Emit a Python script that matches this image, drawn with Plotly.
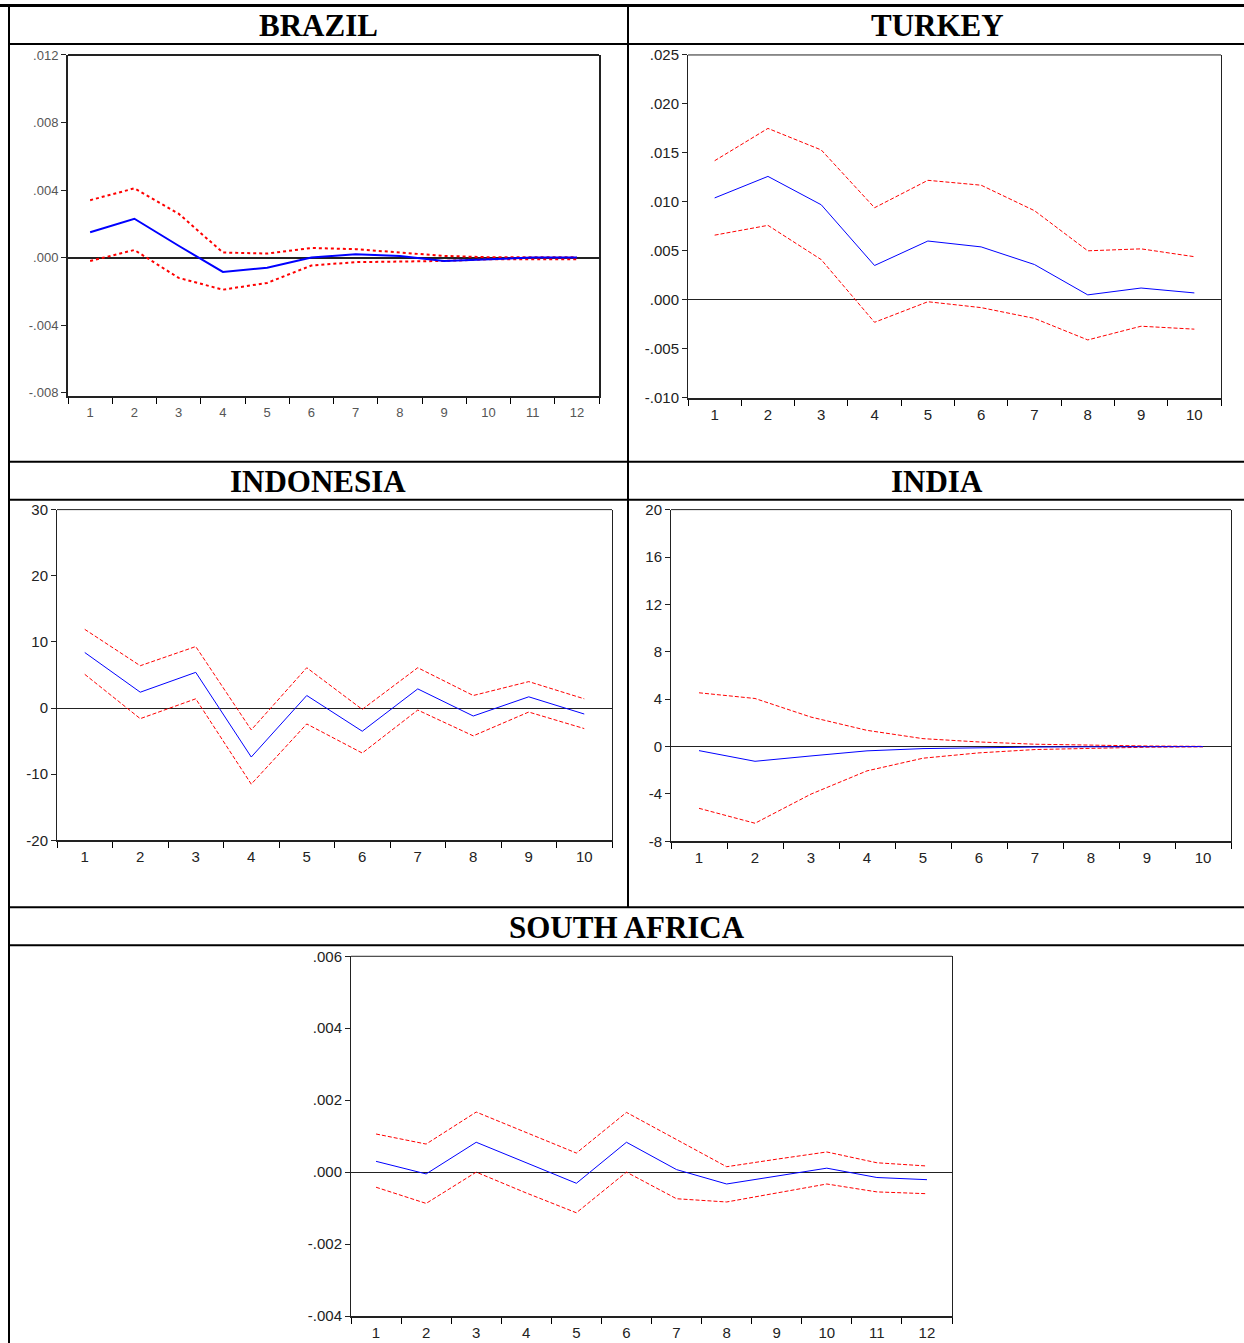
import plotly.graph_objects as go

# page geometry: plotly's paper area is drawn 8px in from the top and bottom
PAGE_W, PAGE_H = 1244, 1343
PAD_Y = 8
FW, FH = PAGE_W, PAGE_H
PAPER_H = PAGE_H - 2 * PAD_Y

# ---------------- data ----------------
brazil_periods = list(range(1, 13))
brazil_resp = [0.0015, 0.0023, 0.0007, -0.00085, -0.0006, 0.0, 0.0002, 0.0001, -0.0002, -0.0001, 0.0, 0.0]
brazil_upper = [0.0034, 0.0041, 0.0026, 0.0003, 0.00024, 0.00057, 0.0005, 0.0003, 0.0001, 0.00002, 0.00002, 0.00002]
brazil_lower = [-0.0002, 0.00045, -0.0012, -0.0019, -0.0015, -0.00047, -0.00027, -0.00025, -0.0002, -0.0001, -0.0001, -0.0001]
brazil_ytickvals = [0.012, 0.008, 0.004, 0.0, -0.004, -0.008]
brazil_yticktext = [".012", ".008", ".004", ".000", "-.004", "-.008"]

turkey_periods = list(range(1, 11))
turkey_resp = [0.0104, 0.0126, 0.0097, 0.0035, 0.0060, 0.0054, 0.0036, 0.0005, 0.0012, 0.0007]
turkey_upper = [0.0142, 0.0175, 0.0153, 0.0094, 0.0122, 0.0117, 0.0091, 0.0050, 0.0052, 0.0044]
turkey_lower = [0.0066, 0.0076, 0.0041, -0.0023, -0.0002, -0.0008, -0.0019, -0.0041, -0.0027, -0.0030]
turkey_ytickvals = [0.025, 0.020, 0.015, 0.010, 0.005, 0.0, -0.005, -0.010]
turkey_yticktext = [".025", ".020", ".015", ".010", ".005", ".000", "-.005", "-.010"]

indonesia_periods = list(range(1, 11))
indonesia_resp = [8.4, 2.4, 5.4, -7.4, 1.9, -3.5, 2.9, -1.2, 1.7, -0.9]
indonesia_upper = [11.9, 6.4, 9.3, -3.3, 6.1, -0.2, 6.1, 1.9, 4.0, 1.4]
indonesia_lower = [5.1, -1.6, 1.4, -11.5, -2.4, -6.8, -0.3, -4.2, -0.6, -3.1]
indonesia_ytickvals = [30, 20, 10, 0, -10, -20]
indonesia_yticktext = ["30", "20", "10", "0", "-10", "-20"]

india_periods = list(range(1, 11))
india_resp = [-0.34, -1.24, -0.79, -0.36, -0.17, -0.08, -0.04, -0.02, -0.01, 0.0]
india_upper = [4.54, 4.06, 2.49, 1.37, 0.67, 0.39, 0.2, 0.1, 0.05, 0.02]
india_lower = [-5.21, -6.47, -4.01, -2.05, -0.98, -0.53, -0.25, -0.12, -0.05, -0.02]
india_ytickvals = [20, 16, 12, 8, 4, 0, -4, -8]
india_yticktext = ["20", "16", "12", "8", "4", "0", "-4", "-8"]

sa_periods = list(range(1, 13))
sa_resp = [0.0003, -0.00005, 0.00083, 0.00025, -0.00031, 0.00083, 0.00007, -0.00033, -0.00011, 0.00011, -0.00015, -0.00021]
sa_upper = [0.00106, 0.00078, 0.00167, 0.0011, 0.00053, 0.00166, 0.00091, 0.00015, 0.00036, 0.00056, 0.00026, 0.00017]
sa_lower = [-0.00042, -0.00087, 0.0, -0.00058, -0.00113, 0.0, -0.00074, -0.00083, -0.00058, -0.00033, -0.00055, -0.0006]
sa_ytickvals = [0.006, 0.004, 0.002, 0.0, -0.002, -0.004]
sa_yticktext = [".006", ".004", ".002", ".000", "-.002", "-.004"]

headers = ["BRAZIL", "TURKEY", "INDONESIA", "INDIA", "SOUTH AFRICA"]

# ---------------- figure ----------------
fig = go.Figure()


def px_x(p):
    return p / FW


def px_y(p):
    return 1 - (p - PAD_Y) / PAPER_H


panels = [
    (brazil_periods, brazil_resp, brazil_upper, brazil_lower, (68, 599, 54, 395), [-0.00818, 0.012],
     brazil_ytickvals, brazil_yticktext, True),
    (turkey_periods, turkey_resp, turkey_upper, turkey_lower, (688, 1221, 54, 397), [-0.010, 0.025],
     turkey_ytickvals, turkey_yticktext, False),
    (indonesia_periods, indonesia_resp, indonesia_upper, indonesia_lower, (57, 612, 509, 840), [-20, 30],
     indonesia_ytickvals, indonesia_yticktext, False),
    (india_periods, india_resp, india_upper, india_lower, (671, 1231, 509, 841), [-8, 20],
     india_ytickvals, india_yticktext, False),
    (sa_periods, sa_resp, sa_upper, sa_lower, (351, 952, 956, 1316), [-0.004, 0.006],
     sa_ytickvals, sa_yticktext, False),
]

layout_axes = {}
shapes = []
for i, (per, resp, up, lo, box, yr, tv, tt, heavy) in enumerate(panels):
    n = i + 1
    xname = "x" if n == 1 else f"x{n}"
    yname = "y" if n == 1 else f"y{n}"
    xkey = "xaxis" if n == 1 else f"xaxis{n}"
    ykey = "yaxis" if n == 1 else f"yaxis{n}"
    x0, x1, yt, yb = box
    N = len(per)
    lw = 2 if heavy else 1
    tickfont = dict(family="Liberation Sans Narrow, Liberation Sans, Arial", size=13, color="#555") if heavy \
        else dict(family="Liberation Sans, Arial", size=15, color="#222")

    red_line = dict(color="#FF0000", width=2, dash="dot") if heavy else dict(color="#FF0000", width=1, dash="4px,2px")
    blue_line = dict(color="#0000FF", width=2) if heavy else dict(color="#0000FF", width=1)

    fig.add_trace(go.Scatter(x=per, y=up, mode="lines", line=red_line, xaxis=xname, yaxis=yname, hoverinfo="skip"))
    fig.add_trace(go.Scatter(x=per, y=lo, mode="lines", line=red_line, xaxis=xname, yaxis=yname, hoverinfo="skip"))
    fig.add_trace(go.Scatter(x=per, y=resp, mode="lines", line=blue_line, xaxis=xname, yaxis=yname, hoverinfo="skip"))

    layout_axes[xkey] = dict(
        domain=[px_x(x0), px_x(x1)], anchor=yname, range=[0.5, N + 0.5],
        tickmode="array", tickvals=per, ticktext=[str(p) for p in per],
        ticks="outside", ticklen=4 if heavy else 2, tickcolor="rgba(0,0,0,0)",
        minor=dict(tickmode="array", tickvals=[k + 0.5 for k in range(N + 1)], ticks="outside",
                   ticklen=6, tickcolor="black", tickwidth=1, showgrid=False),
        showline=True, linecolor="#222", linewidth=2, mirror=False,
        showgrid=False, zeroline=False, tickfont=tickfont, fixedrange=True,
    )
    layout_axes[ykey] = dict(
        domain=[px_y(yb), px_y(yt)], anchor=xname, range=yr,
        tickmode="array", tickvals=tv, ticktext=tt,
        ticks="outside", ticklen=5, tickcolor="#222", tickwidth=1,
        showline=True, linecolor="#222", linewidth=lw, mirror=True,
        showgrid=False, zeroline=True, zerolinecolor="#222", zerolinewidth=2 if heavy else 1,
        tickfont=tickfont, fixedrange=True,
    )
    shapes.append(dict(type="line", xref=f"{xname} domain", yref=f"{yname} domain",
                       x0=0, x1=1, y0=1, y1=1, line=dict(color="#222", width=lw)))


def hline(py, x0=8, x1=PAGE_W, w=2):
    shapes.append(dict(type="line", xref="paper", yref="paper", x0=px_x(x0), x1=px_x(x1),
                       y0=px_y(py), y1=px_y(py), line=dict(color="black", width=w)))


def vline(px, y0, y1, w=2):
    shapes.append(dict(type="line", xref="paper", yref="paper", x0=px_x(px), x1=px_x(px),
                       y0=px_y(y0), y1=px_y(y1), line=dict(color="black", width=w)))


hline(4.5, 0, PAGE_W, 3)
hline(43)
hline(461)
hline(499)
hline(907)
hline(945)
vline(9, 3, PAGE_H)
vline(628, 3, 907)

header_pos = [(318, 25), (937, 25), (318, 481), (937, 481), (627, 927)]
annotations = []
for txt, (hx, hy) in zip(headers, header_pos):
    annotations.append(dict(text=f"<b>{txt}</b>", x=px_x(hx), y=px_y(hy), xref="paper", yref="paper",
                            xanchor="center", yanchor="middle", showarrow=False,
                            font=dict(family="Liberation Serif, Times New Roman, serif", size=31, color="black")))

fig.update_layout(
    width=FW, height=FH, margin=dict(l=0, r=0, t=0, b=0),
    paper_bgcolor="white", plot_bgcolor="white",
    showlegend=False, hovermode=False,
    shapes=shapes, annotations=annotations,
    **layout_axes,
)

fig.write_html("out.html", config={"displayModeBar": False},
               post_script="document.body.style.margin='0';")
